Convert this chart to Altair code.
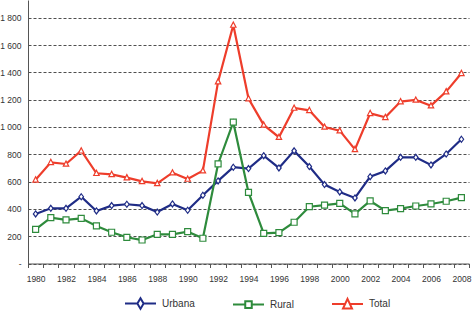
import altair as alt
import pandas as pd

years = list(range(1980, 2009))
urbana = [363, 404, 404, 489, 385, 424, 434, 424, 377, 436, 390, 500, 605, 705, 695,
          790, 700, 825, 710, 578, 524, 480, 636, 678, 778, 778, 722, 802, 910]
rural = [250, 336, 319, 331, 275, 229, 192, 172, 214, 214, 233, 185, 729, 1035, 521,
         221, 226, 302, 416, 428, 441, 363, 458, 387, 402, 421, 436, 456, 482]
total = [613, 741, 729, 826, 661, 653, 629, 602, 587, 665, 619, 680, 1332, 1747, 1208,
         1015, 925, 1139, 1122, 1000, 973, 836, 1100, 1071, 1186, 1198, 1156, 1259, 1393]

series = ["Urbana", "Rural", "Total"]
colors = ["#1F2C86", "#2E8B3C", "#EE3D2B"]
y_ticks = [0, 200, 400, 600, 800, 1000, 1200, 1400, 1600, 1800]

rows = []
for name, vals in zip(series, [urbana, rural, total]):
    for yr, v in zip(years, vals):
        rows.append({"year": yr, "series": name, "value": v})
df = pd.DataFrame(rows)

FONT = "Liberation Sans"

# marker shapes (unit paths)
marker_paths = [
    "M0,-1L0.75,0L0,1L-0.75,0Z",
    "M-1,-1L1,-1L1,1L-1,1Z",
    "M0,-1L0.9,0.75L-0.9,0.75Z",
]
# legend symbols: line with marker in the middle
legend_paths = [
    "M-1,0L-0.2,0M0.2,0L1,0M0,-0.34L0.2,0L0,0.34L-0.2,0Z",
    "M-1,0L-0.21,0M0.21,0L1,0M-0.21,-0.21L0.21,-0.21L0.21,0.21L-0.21,0.21Z",
    "M-1,0L-0.16,0M0.16,0L1,0M0,-0.33L0.29,0.3L-0.29,0.3Z",
]

x_enc = alt.X(
    "year:O",
    scale=alt.Scale(type="band", paddingInner=0, paddingOuter=0),
    bandPosition=0.5,
    axis=alt.Axis(
        title=None,
        tickBand="extent",
        labelExpr="datum.value % 2 == 0 ? datum.value : ''",
        labelAngle=0,
        labelFont=FONT,
        labelFontSize=8.5,
        labelColor="#333333",
        tickSize=4,
        tickColor="#555555",
        domainColor="#555555",
        labelPadding=7,
        grid=False,
    ),
)
y_enc = alt.Y(
    "value:Q",
    scale=alt.Scale(domain=[0, 1930], nice=False),
    axis=alt.Axis(
        title=None,
        values=y_ticks,
        labelExpr="datum.value == 0 ? '-' : replace(format(datum.value, ','), ',', ' ')",
        labelFont=FONT,
        labelFontSize=8.5,
        labelColor="#333333",
        ticks=False,
        labelPadding=7,
        domainColor="#555555",
        grid=True,
        gridColor="#222222",
        gridDash=[3, 2],
        gridWidth=0.8,
    ),
)

cscale = alt.Scale(domain=series, range=colors)

lines = alt.Chart(df).mark_line(strokeWidth=2.2).encode(
    x=x_enc, y=y_enc,
    color=alt.Color("series:N", scale=cscale, legend=None),
    detail="series:N",
)

points = alt.Chart(df).mark_point(
    filled=False, fill="white", fillOpacity=1, opacity=1, size=36, strokeWidth=1.2
).encode(
    x=x_enc, y=y_enc,
    color=alt.Color("series:N", scale=cscale, legend=None),
    shape=alt.Shape("series:N", scale=alt.Scale(domain=series, range=marker_paths), legend=None),
)

leg_props = dict(
    title=None,
    orient="none",
    direction="horizontal",
    legendX=96,
    legendY=287,
    symbolSize=961,
    symbolStrokeWidth=2,
    symbolFillColor="white",
    labelFont=FONT,
    labelFontSize=10,
    labelColor="#333333",
    labelOffset=5,
    columnPadding=34,
    padding=0,
)

legend_layer = alt.Chart(df).mark_point(
    filled=False, fill="white", fillOpacity=1, opacity=1, strokeWidth=2
).encode(
    x=x_enc, y=y_enc,
    color=alt.Color("series:N", scale=alt.Scale(domain=series, range=colors), legend=alt.Legend(**leg_props)),
    shape=alt.Shape("series:N", scale=alt.Scale(domain=series, range=legend_paths), legend=alt.Legend(**leg_props)),
).transform_filter("false")

chart = alt.layer(lines, points, legend_layer).resolve_scale(
    color="independent", shape="independent"
).properties(
    width=441,
    height=263.5,
    autosize=alt.AutoSizeParams(type="none"),
    padding={"left": 28, "top": 0, "right": 3, "bottom": 51.5},
    background="white",
).configure_view(stroke=None)

chart.save("out.html", embed_options={"renderer": "svg", "actions": False})
